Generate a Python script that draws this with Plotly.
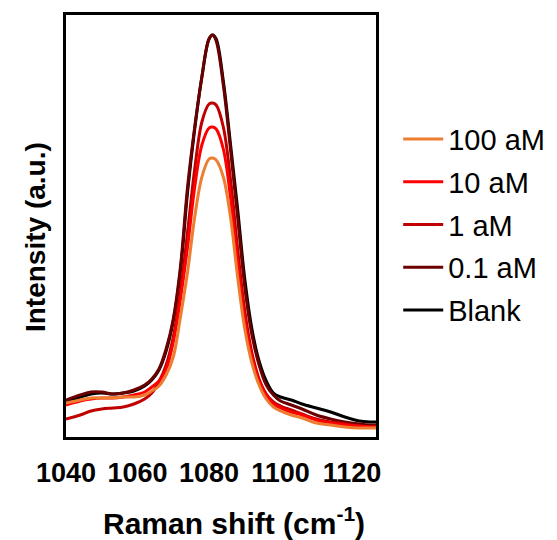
import plotly.graph_objects as go

# Raman shift (cm-1) sample points
x_shift = [1040.0, 1044, 1047, 1050, 1053, 1056, 1059, 1062, 1064, 1066, 1068, 1070, 1072, 1074,
           1076, 1078, 1080, 1081, 1082, 1084, 1086, 1088, 1090, 1092, 1094, 1096, 1098, 1100,
           1103, 1106, 1110, 1114, 1118, 1122, 1125, 1126.7]

blank = [35, 40, 43, 44, 43, 44, 46, 51, 57, 67, 86, 116, 166, 245,
         308, 360, 398, 402, 398, 356, 293, 228, 158, 108, 76, 56, 44, 40,
         37, 33, 29, 25, 20, 16, 15, 15]
am_01 = [37, 42, 45, 45, 43, 44, 47, 52, 58, 68, 88, 118, 170, 250,
         310, 360, 398, 402, 396, 352, 288, 220, 150, 102, 72, 52, 42, 36,
         32, 28, 22, 18, 15, 13, 12, 12]
am_1 = [18, 22, 26, 28, 29, 30, 33, 38, 44, 55, 72, 100, 145, 205,
        268, 315, 333, 334, 332, 310, 258, 188, 126, 84, 58, 43, 35, 31,
        27, 23, 18, 15, 13, 11, 10, 10]
am_10 = [32, 36, 38, 39, 39, 40, 42, 45, 50, 56, 68, 95, 138, 190,
         250, 292, 309, 310, 308, 288, 240, 175, 118, 80, 56, 42, 33, 29,
         25, 22, 17, 14, 12, 11, 10, 10]
am_100 = [34, 37, 39, 39, 39, 40, 40, 42, 46, 51, 62, 80, 120, 165,
          220, 260, 278, 279, 277, 260, 220, 160, 108, 74, 52, 38, 30, 26,
          22, 19, 14, 12, 10, 9, 9, 9]

series_names = ["Blank", "0.1 aM", "1 aM", "10 aM", "100 aM"]
series_vals = [blank, am_01, am_1, am_10, am_100]
series_colors = ["#000000", "#6B0000", "#C00000", "#FF0000", "#ED7D31"]
legend_ranks = [5, 4, 3, 2, 1]

tick_vals = [1040, 1060, 1080, 1100, 1120]
x_title = "Raman shift (cm<sup>-1</sup>)"
y_title = "Intensity (a.u.)"

fig = go.Figure()
for name, vals, col, rk in zip(series_names, series_vals, series_colors, legend_ranks):
    fig.add_trace(go.Scatter(x=x_shift, y=vals, mode="lines", name=name,
                             legendgroup=name, legendrank=rk,
                             line=dict(color=col, width=3, shape="spline", smoothing=1.0)))

font_family = "Liberation Sans, Arial, sans-serif"
fig.update_layout(
    width=549, height=532,
    margin=dict(l=58, r=156, t=7, b=103),
    paper_bgcolor="white", plot_bgcolor="white",
    showlegend=True,
    legend=dict(x=1.0716, xanchor="left", y=0.503, yanchor="middle",
                tracegroupgap=2, itemwidth=40,
                font=dict(family=font_family, size=29, color="black"),
                bgcolor="rgba(0,0,0,0)"),
    xaxis=dict(range=[1040, 1126.7], tickvals=tick_vals, showgrid=False, zeroline=False,
               showline=True, mirror=True, linecolor="black", linewidth=2.5,
               ticks="", ticklabelstandoff=10, automargin=False,
               tickfont=dict(family=font_family, size=27, color="black", weight="bold")),
    yaxis=dict(range=[0, 422], showticklabels=False, showgrid=False, zeroline=False,
               showline=True, mirror=True, linecolor="black", linewidth=2.5, ticks="",
               automargin=False),
    annotations=[
        dict(text=x_title, xref="paper", yref="paper", x=0.543, y=-0.199,
             xanchor="center", yanchor="middle", showarrow=False,
             font=dict(family=font_family, size=30, color="black", weight="bold")),
        dict(text=y_title, xref="paper", yref="paper", x=-0.0985, y=0.475,
             xanchor="center", yanchor="middle", showarrow=False, textangle=-90,
             font=dict(family=font_family, size=28, color="black", weight="bold")),
    ],
)

fig.write_html("out.html")
